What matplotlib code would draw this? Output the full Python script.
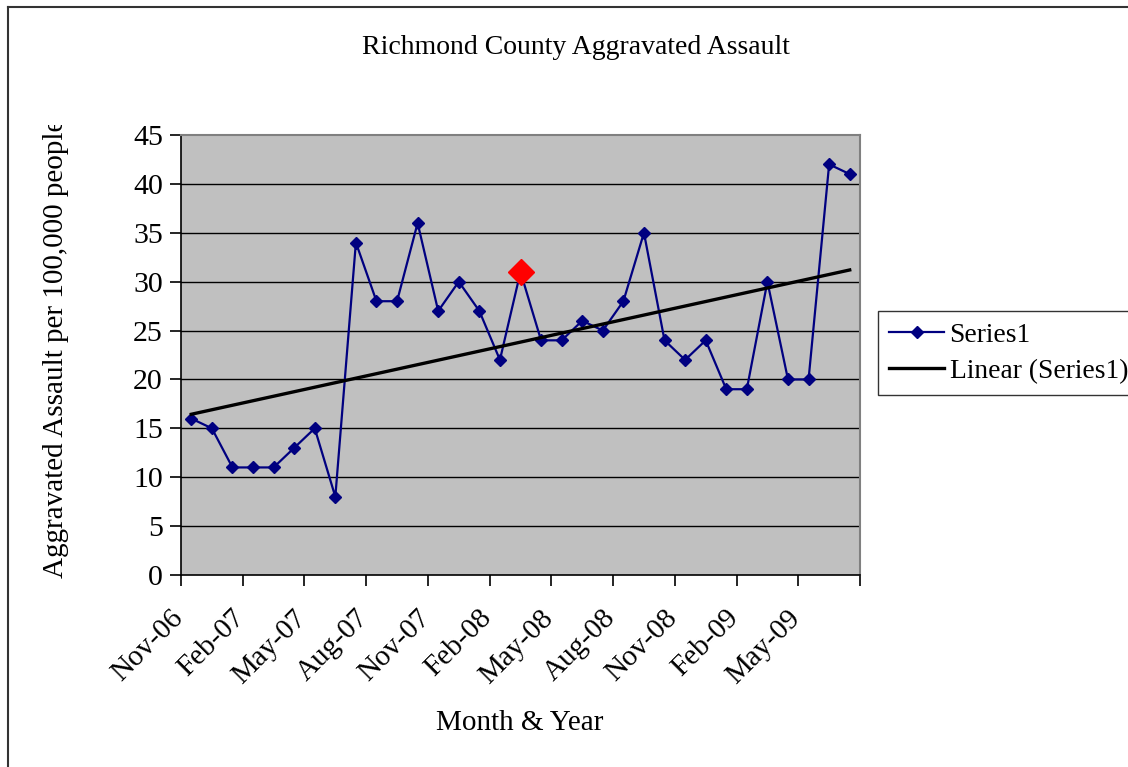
import numpy as np
import matplotlib
matplotlib.use("Agg")
import matplotlib.pyplot as plt
from matplotlib.lines import Line2D
from matplotlib.transforms import Bbox, TransformedBbox, offset_copy

plt.rcParams["font.family"] = ["Liberation Serif", "DejaVu Serif"]

# monthly rates, Nov 2006 - Jul 2009
months = ["Nov-06", "Dec-06",
          "Jan-07", "Feb-07", "Mar-07", "Apr-07", "May-07", "Jun-07",
          "Jul-07", "Aug-07", "Sep-07", "Oct-07", "Nov-07", "Dec-07",
          "Jan-08", "Feb-08", "Mar-08", "Apr-08", "May-08", "Jun-08",
          "Jul-08", "Aug-08", "Sep-08", "Oct-08", "Nov-08", "Dec-08",
          "Jan-09", "Feb-09", "Mar-09", "Apr-09", "May-09", "Jun-09",
          "Jul-09"]
assault = [16, 15, 11, 11, 11, 13, 15, 8, 34, 28, 28, 36, 27, 30, 27, 22,
           31, 24, 24, 26, 25, 28, 35, 24, 22, 24, 19, 19, 30, 20, 20, 42, 41]
highlight = "Mar-08"

x = np.arange(len(months))
y = np.array(assault)

W, H = 1128, 767
fig = plt.figure(figsize=(W / 100, H / 100), dpi=100)
ax = fig.add_axes([181 / W, 1 - 575 / H, (860 - 181) / W, (575 - 135) / H])
ax.set_facecolor("#C0C0C0")

# horizontal gridlines
for v in range(5, 45, 5):
    ax.axhline(v, color="black", lw=1.0, zorder=1)

ax.plot(x, y, color="#000080", lw=1.6, marker="D", ms=6.5, zorder=3,
        label="Series1")

# least squares trend
slope, icpt = np.polyfit(x, y, 1)
ax.plot(x, slope * x + icpt, color="black", lw=2.4, zorder=4,
        label="Linear (Series1)")

hi = months.index(highlight)
ax.plot(x[hi], y[hi], marker="D", ms=13.5, color="red", zorder=5)

ax.set_xlim(-0.5, len(months) - 0.5)
ax.set_ylim(0, 45)
ax.set_yticks(range(0, 50, 5))
ax.tick_params(axis="y", labelsize=21.5, length=8, width=1.2, pad=5)

# quarterly ticks on month boundaries, labels drawn slanted below them
ticks = np.arange(-0.5, len(months), 3)
ax.set_xticks(ticks)
ax.set_xticklabels([])
ax.tick_params(axis="x", length=8, width=1.2)
lab_tr = offset_copy(ax.get_xaxis_transform(), fig=fig, x=-11, y=-30,
                     units="dots")
for t in ticks:
    i = int(t + 0.5)
    if i < len(months):
        ax.text(t, 0, months[i], transform=lab_tr, rotation=45,
                ha="right", va="top", rotation_mode="anchor", fontsize=21)

for side in ("top", "right"):
    ax.spines[side].set_color("#808080")
    ax.spines[side].set_linewidth(1.5)
for side in ("left", "bottom"):
    ax.spines[side].set_color("black")
    ax.spines[side].set_linewidth(1.2)

fig.text(576 / W, 1 - 48 / H, "Richmond County Aggravated Assault",
         ha="center", va="center", fontsize=20)
fig.text(520 / W, 1 - 723 / H, "Month & Year", ha="center", va="center",
         fontsize=21)

yl = fig.text(56 / W, 1 - 578 / H, "Aggravated Assault per 100,000 people",
              rotation=90, ha="center", va="bottom", fontsize=21)
yl.set_clip_box(TransformedBbox(Bbox([[0, 0], [1, 1 - 125 / H]]),
                                fig.transFigure))
yl.set_clip_on(True)

leg = ax.legend(loc="center left", bbox_to_anchor=(878 / W, 1 - 353 / H),
                bbox_transform=fig.transFigure, fontsize=19.8,
                frameon=True, fancybox=False, edgecolor="black",
                handlelength=2.0, handletextpad=0.2, borderpad=0.4,
                labelspacing=0.4, borderaxespad=0)
leg.get_frame().set_linewidth(1.0)

# outer chart frame
fig.add_artist(Line2D([8 / W, 8 / W], [0, 1 - 7 / H], color="#333333",
                      lw=1.5, transform=fig.transFigure))
fig.add_artist(Line2D([8 / W, 1], [1 - 7 / H, 1 - 7 / H], color="#333333",
                      lw=1.5, transform=fig.transFigure))

fig.savefig("out.png", dpi=100)
